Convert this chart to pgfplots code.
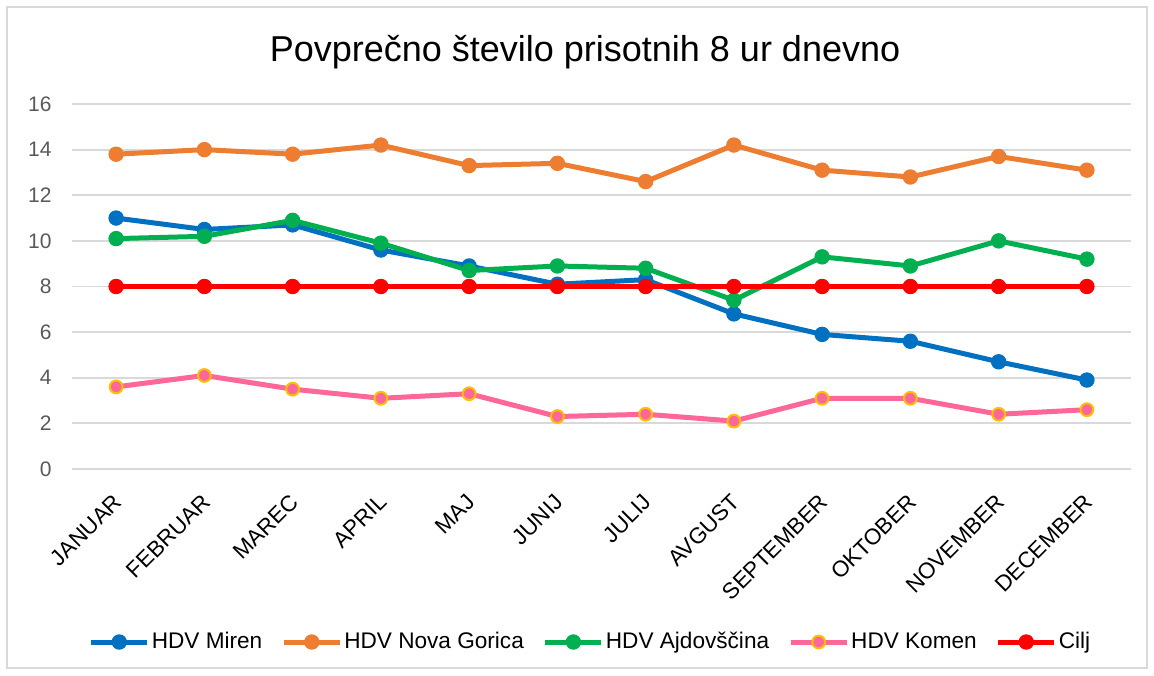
\documentclass[border=0pt]{standalone}
\usepackage{pgfplots}
\pgfplotsset{compat=1.18}
\usepackage{fontspec}
\setmainfont{Liberation Sans}
\definecolor{cblue}{HTML}{0070C0}
\definecolor{corange}{HTML}{ED7D31}
\definecolor{cgreen}{HTML}{00B050}
\definecolor{cpink}{HTML}{FF6699}
\definecolor{cyellow}{HTML}{FFC000}
\definecolor{cred}{HTML}{FF0000}
\definecolor{gridgray}{HTML}{D9D9D9}
\definecolor{ticktext}{HTML}{595959}
\begin{document}
\begin{tikzpicture}
\path (-36pt,-103pt) rectangle (541pt,234.5pt);
\draw[color=gridgray, line width=0.6pt] (-32.5pt,-99.5pt) rectangle (537.5pt,231pt);
\node[font=\fontsize{18}{21}\selectfont, inner sep=0pt] at (256.5pt,208.5pt) {Povprečno število prisotnih 8 ur dnevno};
\begin{axis}[
  at={(0pt,0pt)}, anchor=south west,
  scale only axis, width=529.5pt, height=182.5pt,
  xmin=-0.5, xmax=11.5, ymin=0, ymax=16,
  ytick={0,2,...,16},
  xtick={0,...,11},
  xticklabels={JANUAR,FEBRUAR,MAREC,APRIL,MAJ,JUNIJ,JULIJ,AVGUST,SEPTEMBER,OKTOBER,NOVEMBER,DECEMBER},
  axis line style={draw=none},
  major tick style={draw=none},
  ymajorgrids, grid style={color=gridgray, line width=0.9pt},
  /pgf/number format/assume math mode=true,
  yticklabel style={font=\fontsize{10.5}{12}\selectfont, text=ticktext, anchor=east, inner sep=0pt, xshift=-10pt},
  xticklabel style={font=\fontsize{11.2}{13}\selectfont, text=black, xshift=1pt, yshift=-14.5pt, rotate=45, anchor=east, inner sep=0pt},
  every axis plot/.append style={line width=2.5pt, mark=*, mark size=3.6pt},
  legend columns=5,
  legend style={at={(0.4896,-0.474)}, anchor=center, draw=none, fill=none,
    font=\fontsize{11.3}{13}\selectfont, inner sep=0pt,
    nodes={inner sep=1pt, anchor=west},
    /tikz/every even column/.append style={column sep=8.5pt}},
  legend image code/.code={
    \draw[#1, mark=none] (0pt,0pt) -- (28pt,0pt);
    \draw[#1, line width=0.8pt] plot coordinates {(14pt,0pt)};
  },
]
\addplot[color=cblue, mark options={fill=cblue, draw=cblue, line width=0.5pt}] coordinates {
(0,11.0) (1,10.5) (2,10.7) (3,9.6) (4,8.9) (5,8.1) (6,8.3) (7,6.8) (8,5.9) (9,5.6) (10,4.7) (11,3.9)};
\addlegendentry{HDV Miren}
\addplot[color=corange, mark options={fill=corange, draw=corange, line width=0.5pt}] coordinates {
(0,13.8) (1,14.0) (2,13.8) (3,14.2) (4,13.3) (5,13.4) (6,12.6) (7,14.2) (8,13.1) (9,12.8) (10,13.7) (11,13.1)};
\addlegendentry{HDV Nova Gorica}
\addplot[color=cgreen, mark options={fill=cgreen, draw=cgreen, line width=0.5pt}] coordinates {
(0,10.1) (1,10.2) (2,10.9) (3,9.9) (4,8.7) (5,8.9) (6,8.8) (7,7.4) (8,9.3) (9,8.9) (10,10.0) (11,9.2)};
\addlegendentry{HDV Ajdovščina}
\addplot[color=cpink, mark options={fill=cpink, draw=cyellow, line width=1pt}, mark size=3.2pt] coordinates {
(0,3.6) (1,4.1) (2,3.5) (3,3.1) (4,3.3) (5,2.3) (6,2.4) (7,2.1) (8,3.1) (9,3.1) (10,2.4) (11,2.6)};
\addlegendentry{HDV Komen}
\addplot[color=cred, mark options={fill=cred, draw=cred, line width=0.5pt}] coordinates {
(0,8) (1,8) (2,8) (3,8) (4,8) (5,8) (6,8) (7,8) (8,8) (9,8) (10,8) (11,8)};
\addlegendentry{Cilj}
\end{axis}
\end{tikzpicture}
\end{document}
